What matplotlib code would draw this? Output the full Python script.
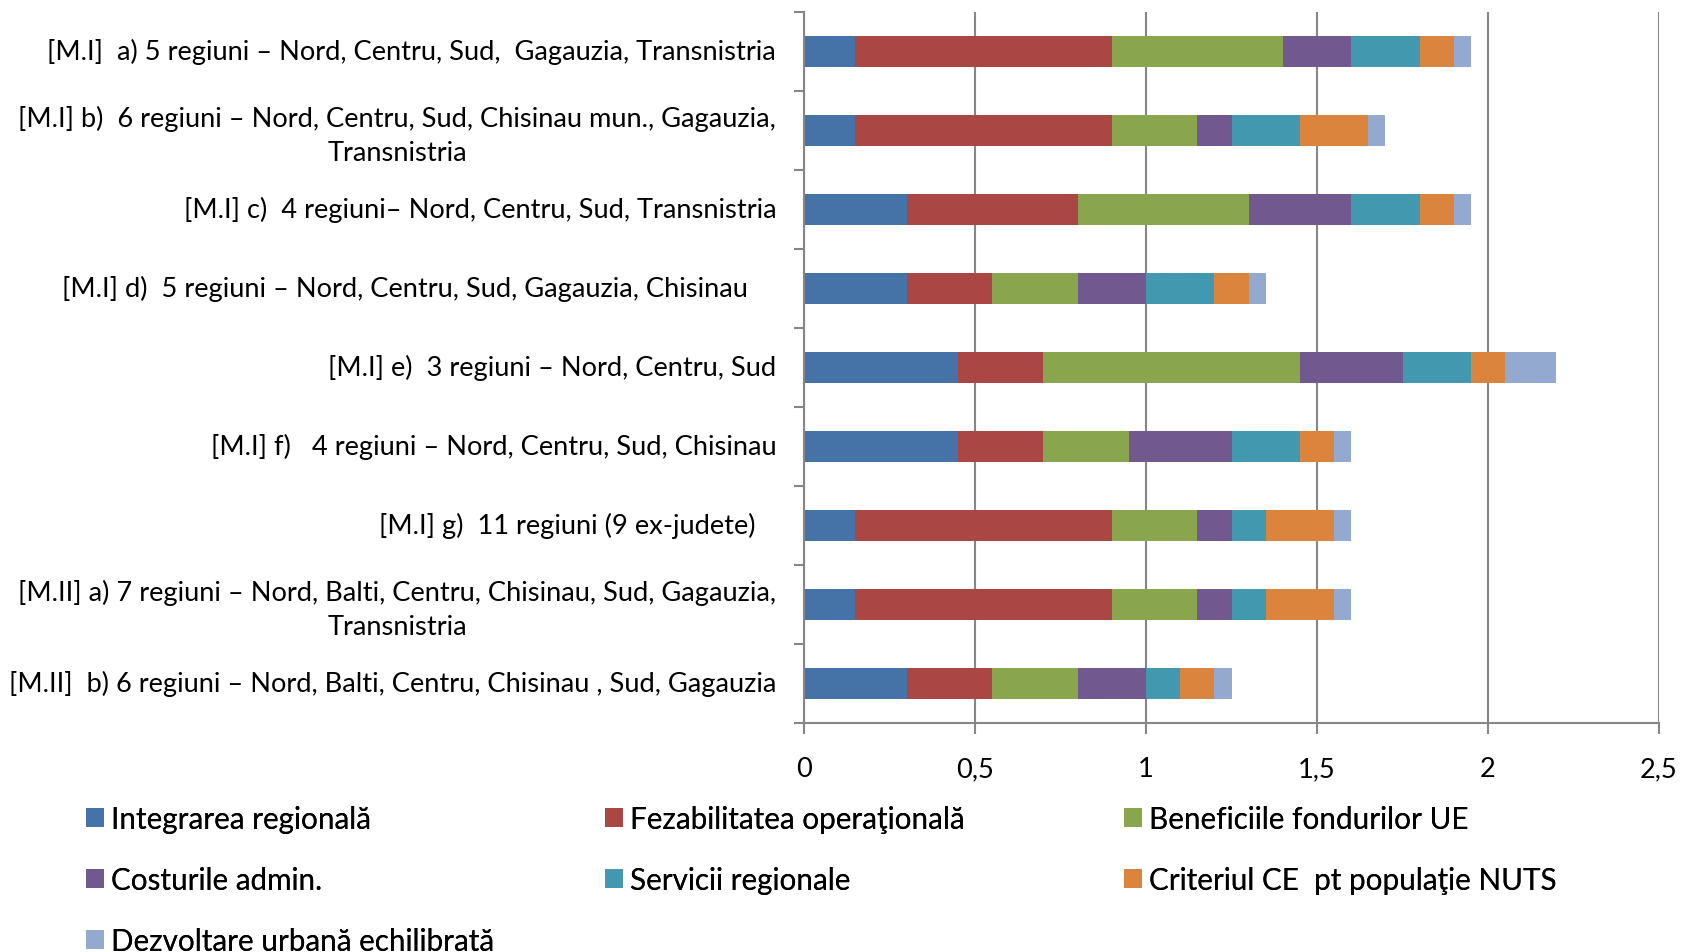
import matplotlib
matplotlib.use("Agg")
import matplotlib.pyplot as plt
import matplotlib.transforms as mtransforms
import numpy as np

plt.rcParams['font.family'] = ['Lato', 'DejaVu Sans']

categories = [
    "[M.I]  a) 5 regiuni \u2013 Nord, Centru, Sud,  Gagauzia, Transnistria",
    "[M.I] b)  6 regiuni \u2013 Nord, Centru, Sud, Chisinau mun., Gagauzia,\nTransnistria",
    "[M.I] c)  4 regiuni\u2013 Nord, Centru, Sud, Transnistria",
    "[M.I] d)  5 regiuni \u2013 Nord, Centru, Sud, Gagauzia, Chisinau    ",
    "[M.I] e)  3 regiuni \u2013 Nord, Centru, Sud",
    "[M.I] f)   4 regiuni \u2013 Nord, Centru, Sud, Chisinau",
    "[M.I] g)  11 regiuni (9 ex-judete)   ",
    "[M.II] a) 7 regiuni \u2013 Nord, Balti, Centru, Chisinau, Sud, Gagauzia,\nTransnistria",
    "[M.II]  b) 6 regiuni \u2013 Nord, Balti, Centru, Chisinau , Sud, Gagauzia",
]

series_names = [
    "Integrarea regional\u0103",
    "Fezabilitatea opera\u0163ional\u0103",
    "Beneficiile fondurilor UE",
    "Costurile admin.",
    "Servicii regionale",
    "Criteriul CE  pt popula\u0163ie NUTS",
    "Dezvoltare urban\u0103 echilibrat\u0103",
]

integrarea   = [0.15, 0.15, 0.30, 0.30, 0.45, 0.45, 0.15, 0.15, 0.30]
fezabilitate = [0.75, 0.75, 0.50, 0.25, 0.25, 0.25, 0.75, 0.75, 0.25]
beneficii    = [0.50, 0.25, 0.50, 0.25, 0.75, 0.25, 0.25, 0.25, 0.25]
costuri      = [0.20, 0.10, 0.30, 0.20, 0.30, 0.30, 0.10, 0.10, 0.20]
servicii     = [0.20, 0.20, 0.20, 0.20, 0.20, 0.20, 0.10, 0.10, 0.10]
criteriul    = [0.10, 0.20, 0.10, 0.10, 0.10, 0.10, 0.20, 0.20, 0.10]
dezvoltare   = [0.05, 0.05, 0.05, 0.05, 0.15, 0.05, 0.05, 0.05, 0.05]

xticks = [0, 0.5, 1, 1.5, 2, 2.5]
xticklabels = ["0", "0,5", "1", "1,5", "2", "2,5"]

colors = ["#4572A7", "#AA4643", "#89A54E", "#71588F", "#4198AF", "#DB843D", "#93A9CF"]

all_series = [integrarea, fezabilitate, beneficii, costuri, servicii, criteriul, dezvoltare]

fig = plt.figure(figsize=(16.86, 9.53), dpi=100)
ax = fig.add_axes([804/1686, 1 - 724/953, (1659 - 804)/1686, (724 - 13)/953])

y = np.arange(len(categories))
left = np.zeros(len(categories))
handles = []
for name, vals, c in zip(series_names, all_series, colors):
    b = ax.barh(y, vals, left=left, height=0.39, color=c, label=name, linewidth=0)
    handles.append(b)
    left = left + np.array(vals)

ax.set_ylim(len(categories) - 0.5, -0.5)
ax.set_xlim(0, 2.5)
ax.set_axisbelow(True)
ax.grid(axis='x', color='#868686', linewidth=1.5)
ax.grid(axis='y', visible=False)

fs = 19.6
ax.set_yticks(y)
ax.set_yticklabels(categories, fontsize=fs, ha='right', multialignment='center', linespacing=1.45)
ax.set_yticks(np.arange(len(categories) + 1) - 0.5, minor=True)
ax.tick_params(axis='y', which='major', length=0, pad=20)
ax.tick_params(axis='y', which='minor', length=7, width=1.5, color='#868686', direction='out')
shift = mtransforms.ScaledTranslation(0, 3/100, fig.dpi_scale_trans)
for lab in ax.get_yticklabels():
    lab.set_transform(lab.get_transform() + shift)

ax.set_xticks(xticks)
ax.set_xticklabels(xticklabels, fontsize=fs)
ax.tick_params(axis='x', which='major', length=8, width=1.5, color='#868686', pad=16)

for s in ['top', 'right']:
    ax.spines[s].set_visible(False)
for s in ['left', 'bottom']:
    ax.spines[s].set_color('#868686')
    ax.spines[s].set_linewidth(1.5)

col_x = [86/1686, 605/1686, 1124/1686]
col_members = [[0, 3, 6], [1, 4], [2, 5]]
for cx, mem in zip(col_x, col_members):
    leg = fig.legend([handles[i] for i in mem], [series_names[i] for i in mem],
                     loc='upper left', bbox_to_anchor=(cx, 1 - 806/953),
                     frameon=False, fontsize=21.3, handlelength=0.6, handleheight=0.6,
                     handletextpad=0.25, labelspacing=1.12, borderaxespad=0, borderpad=0)
    fig.add_artist(leg)

fig.savefig("out.png", dpi=100)
